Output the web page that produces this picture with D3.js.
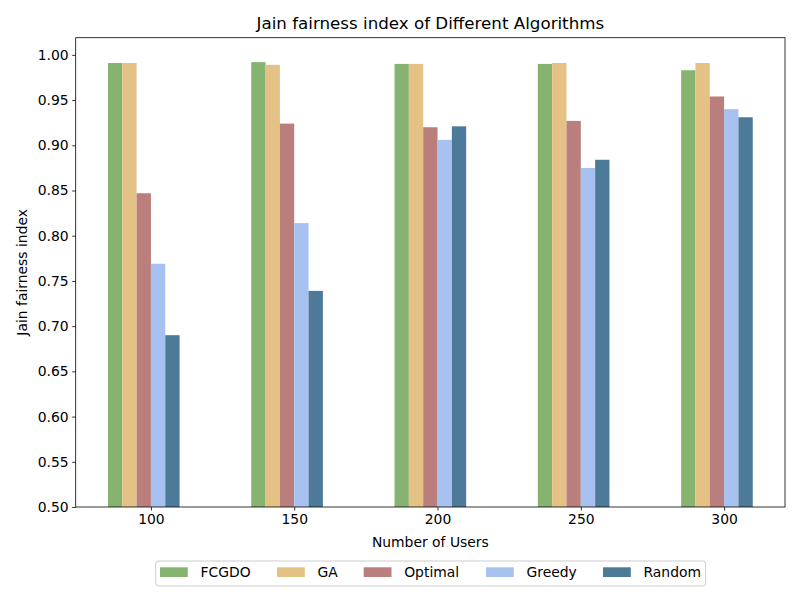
<!DOCTYPE html>
<html><head><meta charset="utf-8">
<script src="https://cdn.jsdelivr.net/npm/d3@7/dist/d3.min.js"></script>
<style>body{margin:0;background:#fff}text{font-family:"DejaVu Sans",sans-serif}</style>
</head><body><svg id="c" width="800" height="600"></svg>
<script>
const categories = [100, 150, 200, 250, 300];
const seriesNames = ["FCGDO", "GA", "Optimal", "Greedy", "Random"];
const FCGDO   = [0.991, 0.992, 0.990, 0.990, 0.983];
const GA      = [0.991, 0.989, 0.990, 0.991, 0.991];
const Optimal = [0.847, 0.924, 0.920, 0.927, 0.954];
const Greedy  = [0.769, 0.814, 0.906, 0.875, 0.940];
const Random  = [0.690, 0.739, 0.921, 0.884, 0.931];
const yTicks = [0.50, 0.55, 0.60, 0.65, 0.70, 0.75, 0.80, 0.85, 0.90, 0.95, 1.00];
const series = [FCGDO, GA, Optimal, Greedy, Random];
const colors = ["#86b470", "#e4c184", "#ba7f7c", "#a7c2f0", "#4e7a9a"];

const svg = d3.select("#c");
const L = 75.7, R = 785, T = 37.7, B = 507;
const barW = 5;
const x = d3.scaleLinear().domain([73.75, 321.25]).range([L, R]);
const y = d3.scaleLinear().domain([0.5, 1.019]).range([B, T]);

series.forEach((vals, i) => {
  svg.append("g").selectAll("rect").data(vals).join("rect")
    .attr("x", (d, j) => x(categories[j] + (i - 3) * barW))
    .attr("width", x(barW) - x(0))
    .attr("y", d => y(d))
    .attr("height", d => y(0.5) - y(d))
    .attr("fill", colors[i]);
});

const xAxis = svg.append("g").attr("transform", `translate(0,${B})`)
  .call(d3.axisBottom(x).tickValues(categories).tickFormat(d3.format("d")).tickSize(3.5).tickPadding(3.5));
const yAxis = svg.append("g").attr("transform", `translate(${L},0)`)
  .call(d3.axisLeft(y).tickValues(yTicks).tickFormat(d3.format(".2f")).tickSize(3.5).tickPadding(3.5));
[xAxis, yAxis].forEach(a => {
  a.select(".domain").remove();
  a.selectAll("text").attr("font-size", 13.9).attr("fill", "#000").attr("font-family", "DejaVu Sans");
  a.selectAll("line").attr("stroke", "#000").attr("stroke-width", 0.8);
});
svg.append("rect").attr("x", L).attr("y", T).attr("width", R - L).attr("height", B - T)
  .attr("fill", "none").attr("stroke", "#000").attr("stroke-width", 0.8);

svg.append("text").attr("x", (L + R) / 2).attr("y", 29).attr("text-anchor", "middle")
  .attr("font-size", 16.7).text("Jain fairness index of Different Algorithms");
svg.append("text").attr("x", (L + R) / 2).attr("y", 547).attr("text-anchor", "middle")
  .attr("font-size", 13.9).text("Number of Users");
svg.append("text").attr("transform", `translate(27,${(T + B) / 2}) rotate(-90)`).attr("text-anchor", "middle")
  .attr("font-size", 13.9).text("Jain fairness index");

// legend
const lg = svg.append("g");
lg.append("rect").attr("x", 155.7).attr("y", 561).attr("width", 550).attr("height", 25)
  .attr("rx", 3).attr("fill", "#fff").attr("stroke", "#cccccc").attr("stroke-width", 1);
const patchX = [160, 277, 363.7, 486, 603];
seriesNames.forEach((n, i) => {
  lg.append("rect").attr("x", patchX[i]).attr("y", 567.3).attr("width", 27.8).attr("height", 9.7).attr("fill", colors[i]);
  lg.append("text").attr("x", patchX[i] + 40.5).attr("y", 577).attr("font-size", 13.9).text(n);
});
</script></body></html>
